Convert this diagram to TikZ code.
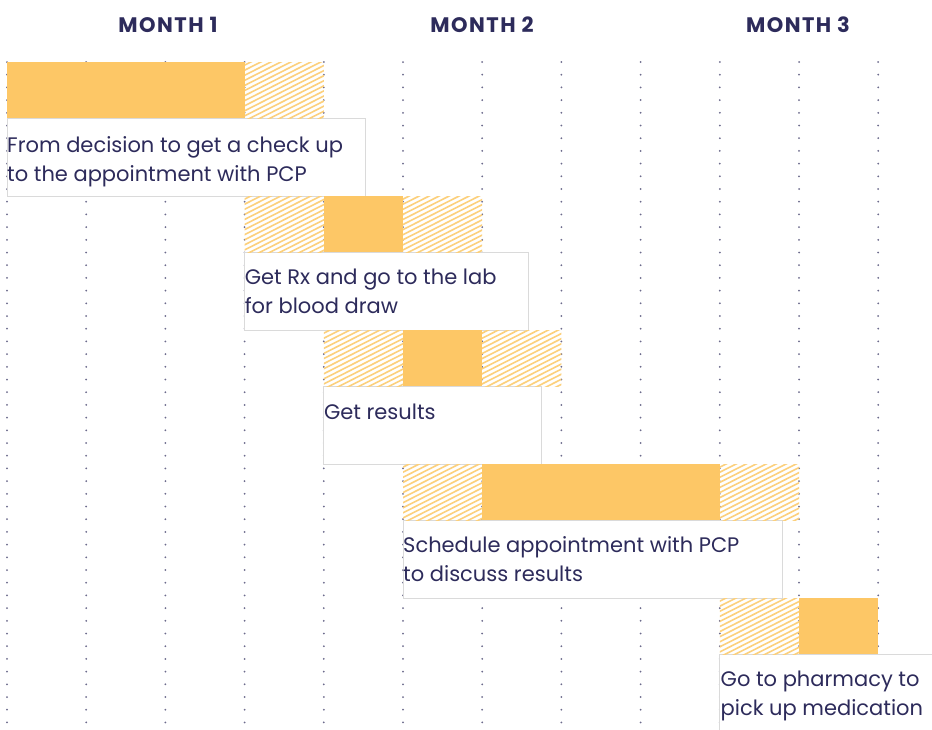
\documentclass[tikz,border=0pt]{standalone}
\usepackage{fontspec}
\setmainfont{Poppins}
\definecolor{bar}{HTML}{FDC766}
\definecolor{hatch}{HTML}{FCD07C}
\definecolor{ink}{HTML}{2D2B5B}
\definecolor{dotc}{HTML}{6C6B8C}
\definecolor{edge}{HTML}{DADADA}
\tikzset{
 dotline/.style={dotc, line width=2pt, line cap=round, dash pattern=on 0pt off 12.7pt},
 solidbar/.style={fill=bar, draw=none, inner sep=0pt, outer sep=0pt, anchor=north west, minimum height=56},
 hatchline/.style={hatch, line width=1.6pt},
 labelbox/.style={fill=white, draw=edge, line width=0.7pt, inner sep=0pt, outer sep=0pt, anchor=north west, minimum height=78},
 labeltext/.style={text=ink, anchor=base west, inner sep=0pt, align=left, font=\fontsize{21}{29}\selectfont},
 header/.style={text=ink, anchor=base, inner sep=0pt, font=\fontsize{21}{24}\selectfont\bfseries\addfontfeatures{LetterSpace=7}},
}
\newcommand\hatchcell[3]{%
  \begin{scope}
    \clip (#1,#3) rectangle (#2,#3+56);
    \foreach \k in {0,...,20} \draw[hatchline] (#1-112+\k*10,#3+60) -- ++(130,-66);
  \end{scope}}
\begin{document}
\begin{tikzpicture}[x=1pt,y=-1pt]
\useasboundingbox (0,0) rectangle (932,729);
\fill[white] (0,0) rectangle (932,729);
% dotted week lines
\foreach \i in {0,...,11} \draw[dotline] (7+79.2*\i,62) -- (7+79.2*\i,729);
% headers
\node[header] (m1) at (168,32) {MONTH 1};
\node[header] (m2) at (482,32) {MONTH 2};
\node[header] (m3) at (798,32) {MONTH 3};
% label boxes
\node[labelbox, minimum width=358] (l1) at (7,118) {};
\node[labelbox, minimum width=284] (l2) at (244.6,252) {};
\node[labelbox, minimum width=218] (l3) at (323.8,386) {};
\node[labelbox, minimum width=379] (l4) at (403,520) {};
\node[labelbox, minimum width=230, minimum height=90] (l5) at (719.8,654) {};
% row 1
\hatchcell{244.6}{323.8}{62}
\node[solidbar, minimum width=237.6] (b1) at (7,62) {};
\node[labeltext] (t1) at (7,181) {From decision to get a check up\\to the appointment with PCP};
% row 2
\hatchcell{244.6}{323.8}{196}
\hatchcell{403}{482.2}{196}
\node[solidbar, minimum width=79.2] (b2) at (323.8,196) {};
\node[labeltext] (t2) at (244.6,313) {Get Rx and go to the lab\\for blood draw};
% row 3
\hatchcell{323.8}{403}{330}
\hatchcell{482.2}{561.4}{330}
\node[solidbar, minimum width=79.2] (b3) at (403,330) {};
\node[labeltext] (t3) at (323.8,419) {Get results};
% row 4
\hatchcell{403}{482.2}{464}
\hatchcell{719.8}{799}{464}
\node[solidbar, minimum width=237.6] (b4) at (482.2,464) {};
\node[labeltext] (t4) at (403,581) {Schedule appointment with PCP\\to discuss results};
% row 5
\hatchcell{719.8}{799}{598}
\node[solidbar, minimum width=79.2] (b5) at (799,598) {};
\node[labeltext] (t5) at (720.5,715) {Go to pharmacy to\\pick up medication};
\end{tikzpicture}
\end{document}
